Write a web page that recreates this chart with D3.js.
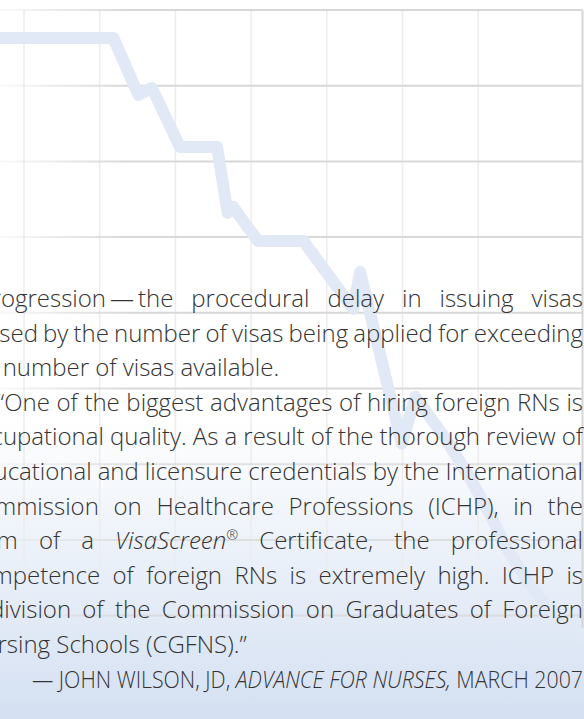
<!DOCTYPE html>
<html>
<head>
<meta charset="utf-8">
<script src="https://cdn.jsdelivr.net/npm/d3@7"></script>
<style>
html, body { margin: 0; padding: 0; background: #fff; overflow: hidden; }
svg { display: block; }
text { font-family: "Open Sans", "Noto Sans", sans-serif; font-weight: 300; fill: #333333; }
</style>
</head>
<body>
<svg id="svg-port" width="584" height="719"></svg>
<script>
// grid positions, in grid units
const gridCols = [0, 1, 2, 3, 4, 5, 6];
const gridRows = [0, 1, 2, 3, 4, 5, 6, 7, 8];

// the pale trend line behind the quote (grid units)
const trendX = [-0.32, 1.18, 1.51, 1.69, 2.06, 2.55, 2.69, 2.76, 3.09, 3.69, 4.35, 4.44, 4.99, 5.17, 5.56, 5.89, 6.16, 6.38, 6.66, 6.95, 7.21, 7.61];
const trendY = [0.37, 0.37, 1.12, 1.03, 1.81, 1.81, 2.68, 2.60, 3.05, 3.05, 3.95, 3.46, 5.73, 5.11, 5.65, 6.18, 6.67, 7.11, 7.56, 7.93, 8.15, 8.39];

// text, _x_ marks italics
const paraOne = [
	'retrogression\u2009\u2014\u2009the procedural delay in issuing visas',
	'caused by the number of visas being applied for exceeding',
	'the number of visas available.'
];
const paraTwo = [
	'\u201COne of the biggest advantages of hiring foreign RNs is',
	'occupational quality. As a result of the thorough review of',
	'educational and licensure credentials by the International',
	'Commission on Healthcare Professions (ICHP), in the',
	'form of a _VisaScreen_\u00AE Certificate, the professional',
	'competence of foreign RNs is extremely high. ICHP is',
	'a division of the Commission on Graduates of Foreign',
	'Nursing Schools (CGFNS).\u201D'
];
const attribution = '\u2014 JOHN WILSON, JD, _ADVANCE FOR NURSES,_ MARCH 2007';

const W = 584, H = 719;
const svg = d3.select('#svg-port');
const defs = svg.append('defs');

var x = d3.scaleLinear().domain([0, 1]).range([24, 99.7]);
var y = d3.scaleLinear().domain([0, 1]).range([10, 85.7]);

// background: white fading into pale blue at the bottom
var bg = defs.append('linearGradient').attr('id', 'bg')
	.attr('x1', 0).attr('y1', 0).attr('x2', 0).attr('y2', 1);
bg.append('stop').attr('offset', 0.58).attr('stop-color', '#ffffff');
bg.append('stop').attr('offset', 1).attr('stop-color', '#d4e0f2');
svg.append('rect').attr('width', W).attr('height', H).attr('fill', 'url(#bg)');

// horizontal rules fade out toward the left edge
var hfade = defs.append('linearGradient').attr('id', 'hfade')
	.attr('gradientUnits', 'userSpaceOnUse')
	.attr('x1', 0).attr('y1', 0).attr('x2', 130).attr('y2', 0);
hfade.append('stop').attr('offset', 0).attr('stop-color', '#d8d8d8').attr('stop-opacity', 0.15);
hfade.append('stop').attr('offset', 1).attr('stop-color', '#d8d8d8').attr('stop-opacity', 1);

var vfade = defs.append('linearGradient').attr('id', 'vfade')
	.attr('gradientUnits', 'userSpaceOnUse')
	.attr('x1', 0).attr('y1', y(7)).attr('x2', 0).attr('y2', y(8.6));
vfade.append('stop').attr('offset', 0).attr('stop-color', '#ececec').attr('stop-opacity', 1);
vfade.append('stop').attr('offset', 1).attr('stop-color', '#ececec').attr('stop-opacity', 0);

var frameRight = W - 1.5;

var grid = svg.append('g').attr('class', 'grid');
grid.selectAll('line.v')
	.data(gridCols)
	.enter().append('line')
	.attr('class', 'v')
	.attr('x1', d => x(d)).attr('x2', d => x(d))
	.attr('y1', y(0)).attr('y2', y(8.6))
	.attr('stroke', 'url(#vfade)')
	.attr('stroke-width', 1.5);

grid.selectAll('line.h')
	.data(gridRows)
	.enter().append('line')
	.attr('class', 'h')
	.attr('x1', 0).attr('x2', frameRight)
	.attr('y1', d => y(d)).attr('y2', d => y(d))
	.attr('stroke', 'url(#hfade)')
	.attr('stroke-opacity', d => d > 5 ? 0.75 : 1)
	.attr('stroke-width', 2);

grid.append('line')
	.attr('x1', frameRight).attr('x2', frameRight)
	.attr('y1', y(0)).attr('y2', y(8.3))
	.attr('stroke', '#d6d6d6')
	.attr('stroke-width', 2);

var trend = d3.line()
	.x((d, i) => x(trendX[i]))
	.y((d, i) => y(trendY[i]));

svg.append('path')
	.attr('d', trend(trendX))
	.attr('fill', 'none')
	.attr('stroke', '#e1e9f6')
	.attr('stroke-width', 12)
	.attr('stroke-linejoin', 'round')
	.attr('stroke-linecap', 'round');

// ---- text ----
var fontSize = 24, lead = 34.6, firstBase = 307, R = W - 1;
var textG = svg.append('g').attr('font-size', fontSize);

function fill(sel, str) {
	str.split(/(_[^_]*_|\u00AE)/).filter(s => s).forEach(function (s) {
		if (s === '\u00AE') {
			sel.append('tspan').attr('font-size', fontSize * 0.6).attr('dy', -fontSize * 0.4).text(s);
		} else if (s[0] === '_') {
			sel.append('tspan').attr('font-style', 'italic').text(s.slice(1, -1));
		} else {
			sel.append('tspan').text(s);
		}
	});
	return sel;
}

function spaceWidth() {
	var a = textG.append('text').text('xx'), b = textG.append('text').text('x x');
	var w = b.node().getComputedTextLength() - a.node().getComputedTextLength();
	a.remove(); b.remove();
	return w;
}
var sp = spaceWidth();

function setLine(str, left, base, justify) {
	var words = str.split(' ');
	var nodes = words.map(w => fill(textG.append('text').attr('y', base), w));
	var widths = nodes.map(n => n.node().getComputedTextLength());
	var total = d3.sum(widths);
	var gap = justify && words.length > 1 ? (R - left - total) / (words.length - 1) : sp;
	var cx = left;
	nodes.forEach(function (n, i) {
		n.attr('x', cx);
		cx += widths[i] + gap;
	});
}

function setParagraph(lines, left, indent, startRow) {
	lines.forEach(function (l, i) {
		setLine(l, i === 0 ? left + indent : left, firstBase + (startRow + i) * lead, i < lines.length - 1);
	});
}

setParagraph(paraOne, -39, 0, 0);
setParagraph(paraTwo, -34, 31, paraOne.length);

fill(textG.append('text')
	.attr('x', R)
	.attr('y', firstBase + (paraOne.length + paraTwo.length) * lead)
	.attr('text-anchor', 'end')
	.attr('font-size', 23)
	.attr('textLength', 551)
	.attr('lengthAdjust', 'spacingAndGlyphs'), attribution);
</script>
</body>
</html>
